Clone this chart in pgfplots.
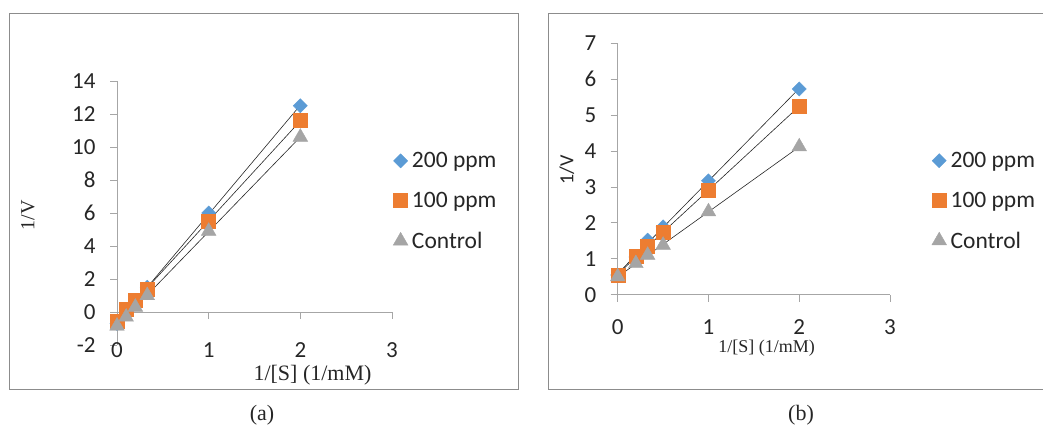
\documentclass[border=0pt]{standalone}
\usepackage{pgfplots}
\usepackage{pgfplotstable}
\pgfplotsset{compat=1.18}
\usepackage{fontspec}
\setmainfont{Liberation Serif}
\newfontfamily\carlito{Carlito}
\definecolor{cblue}{HTML}{5B9BD5}
\definecolor{corange}{HTML}{ED7D31}
\definecolor{cgray}{HTML}{A5A5A5}
\definecolor{axgray}{HTML}{A6A6A6}
\definecolor{framegray}{HTML}{8C8C8C}
\definecolor{txt}{HTML}{262626}

\pgfplotstableread{
x     a     b     c
0     -0.70 -0.55 -0.85
0.1   0.00  0.15  -0.30
0.2   0.60  0.70  0.30
0.33  1.50  1.40  1.00
1     6.00  5.50  4.90
2     12.50 11.60 10.60
}\dataA
\pgfplotstableread{
x     a     b     c
0     0.55  0.55  0.50
0.2   1.05  1.06  0.87
0.33  1.52  1.34  1.10
0.5   1.89  1.75  1.38
1     3.17  2.92  2.31
2     5.73  5.24  4.12
}\dataB

\pgfplotsset{
  excel/.style={
    scale only axis,
    axis line style={axgray, line width=0.8bp, -},
    tick style={axgray, line width=0.8bp},
    tick align=outside,
    major tick length=7bp,
    ticklabel style={font=\carlito\fontsize{23bp}{27bp}\selectfont, text=txt},
    yticklabel style={xshift=-11bp},
    xmin=0, xmax=3,
    xtick={0,1,2,3},
    xticklabels={0,1,2,3},
    legend style={draw=none, fill=none, font=\carlito\fontsize{23.5bp}{27bp}\selectfont, text=txt, row sep=14bp,
      nodes={inner xsep=4bp}},
    legend cell align=left,
    clip=false,
  },
  s200/.style={only marks, mark=square*, mark size=5bp, mark options={rotate=45, fill=cblue, draw=cblue}},
  s100/.style={only marks, mark=square*, mark size=7bp, mark options={fill=corange, draw=corange}},
  sctl/.style={only marks, mark=triangle*, mark size=8.5bp, mark options={fill=cgray, draw=cgray}},
  trend/.style={black!85, line width=0.6bp, no marks, forget plot},
}

\begin{document}
\begin{tikzpicture}[x=1bp,y=1bp]
\useasboundingbox (0,0) rectangle (1043,428);
\draw[framegray, line width=1bp] (9.3,38.9) rectangle (518,414.7);
\draw[framegray, line width=1bp] (548,38.9) -- (548,414.7) -- (1050,414.7);
\draw[framegray, line width=1bp] (548,38.9) -- (1050,38.9);

\begin{axis}[excel,
  at={(117bp,83bp)}, anchor=south west,
  width=275bp, height=264bp,
  ymin=-2, ymax=14,
  ytick={-2,0,2,4,6,8,10,12,14},
  yticklabels={-2,0,2,4,6,8,10,12,14},
  axis x line*=bottom, axis y line*=left,
  x axis line style={draw=none},
  xtick style={draw=none},
  xticklabel style={anchor=center, yshift=2bp},
  xlabel={1/[S] (1/mM)},
  xlabel style={at={(axis description cs:0.711,-0.114)}, anchor=center, font=\fontsize{22bp}{26bp}\selectfont, text=txt},
  ylabel={1/V},
  ylabel style={at={(axis description cs:-0.324,0.492)}, anchor=center, rotate=0, font=\fontsize{20bp}{24bp}\selectfont, text=txt},
  legend style={at={(axis description cs:0.993,0.545)}, anchor=west, row sep=19bp},
]
\draw[axgray, line width=0.8bp] (axis cs:0,0) -- (axis cs:3,0);
\pgfplotsinvokeforeach{0,1,2,3}{\draw[axgray, line width=0.8bp] (axis cs:#1,0) -- ([yshift=-7bp]axis cs:#1,0);}
\addplot[s200] table[x=x,y=a] {\dataA};
\addlegendentry{200 ppm}
\addplot[s100] table[x=x,y=b] {\dataA};
\addlegendentry{100 ppm}
\addplot[sctl] table[x=x,y=c] {\dataA};
\addlegendentry{Control}
\addplot[trend] table[x=x,y={create col/linear regression={y=a}}] {\dataA};
\addplot[trend] table[x=x,y={create col/linear regression={y=b}}] {\dataA};
\addplot[trend] table[x=x,y={create col/linear regression={y=c}}] {\dataA};
\end{axis}

\begin{axis}[excel,
  at={(617.7bp,133.3bp)}, anchor=south west,
  width=272.3bp, height=251.4bp,
  ymin=0, ymax=7,
  ytick={0,1,2,3,4,5,6,7},
  yticklabels={0,1,2,3,4,5,6,7},
  axis x line*=bottom, axis y line*=left,
  xticklabel style={yshift=-14bp},
  xlabel={1/[S] (1/mM)},
  xlabel style={at={(axis description cs:0.547,-0.211)}, anchor=center, font=\fontsize{18bp}{22bp}\selectfont, text=txt},
  ylabel={1/V},
  ylabel style={at={(axis description cs:-0.187,0.496)}, anchor=center, rotate=0, font=\carlito\fontsize{20bp}{24bp}\selectfont, text=txt},
  legend style={at={(axis description cs:1.142,0.373)}, anchor=west, row sep=19bp},
]
\addplot[s200] table[x=x,y=a] {\dataB};
\addlegendentry{200 ppm}
\addplot[s100] table[x=x,y=b] {\dataB};
\addlegendentry{100 ppm}
\addplot[sctl] table[x=x,y=c] {\dataB};
\addlegendentry{Control}
\addplot[trend] table[x=x,y={create col/linear regression={y=a}}] {\dataB};
\addplot[trend] table[x=x,y={create col/linear regression={y=b}}] {\dataB};
\addplot[trend] table[x=x,y={create col/linear regression={y=c}}] {\dataB};
\end{axis}

\node[font=\fontsize{22bp}{26bp}\selectfont, text=txt] at (262,13) {(a)};
\node[font=\fontsize{22bp}{26bp}\selectfont, text=txt] at (801,13) {(b)};
\end{tikzpicture}
\end{document}
